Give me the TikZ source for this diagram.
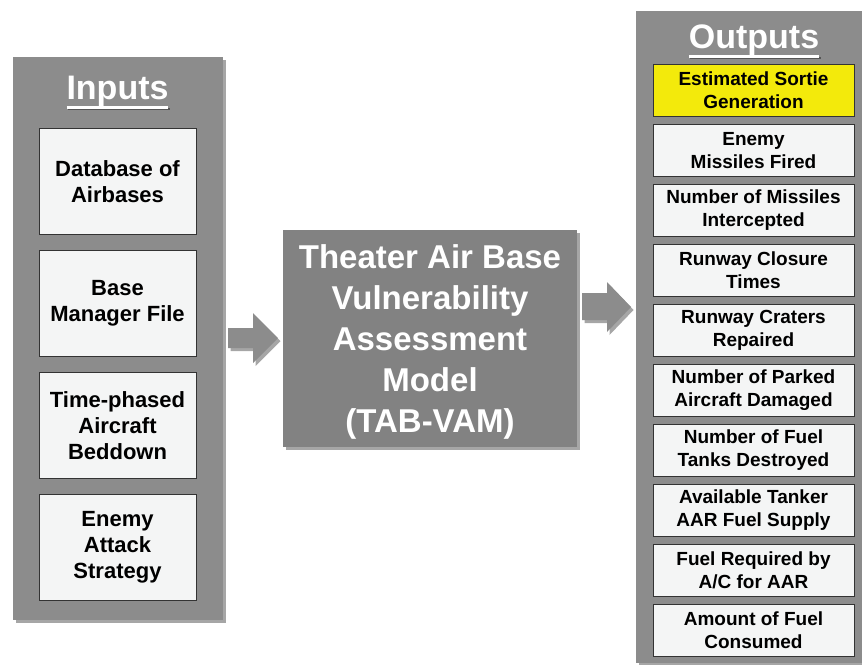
\documentclass[tikz,border=0pt]{standalone}
\usepackage{fontspec}
\setmainfont{Liberation Sans}
\usetikzlibrary{shadows,calc}
\definecolor{panelgray}{HTML}{8C8C8C}
\definecolor{modelgray}{HTML}{828282}
\definecolor{boxfill}{HTML}{F4F5F5}
\definecolor{boxline}{HTML}{333333}
\definecolor{sortieyellow}{HTML}{F3EA0B}
\definecolor{ulshadow}{HTML}{555555}
\newcommand\headul[1]{\setbox0\hbox{#1}\rlap{\hspace{1.5pt}\textcolor{ulshadow}{\rule[-11pt]{\wd0}{2.4pt}}}\rlap{\rule[-9.5pt]{\wd0}{2.4pt}}\box0}
\begin{document}
\begin{tikzpicture}[x=1pt,y=-1pt,
  softshadow/.style={drop shadow={shadow xshift=2.5pt, shadow yshift=-3pt, opacity=0.35, fill=black}},
  panel/.style={fill=panelgray, draw=none, inner sep=0pt, anchor=north west, softshadow},
  inbox/.style={fill=boxfill, draw=boxline, line width=0.9pt, minimum width=157, minimum height=106,
    inner sep=2pt, align=center, font=\bfseries\fontsize{22}{26}\selectfont},
  outbox/.style={fill=boxfill, draw=boxline, line width=0.9pt, minimum width=201, minimum height=52,
    inner sep=1pt, align=center, font=\bfseries\fontsize{19}{23}\selectfont},
  headtxt/.style={text=white, font=\bfseries\fontsize{34}{40}\selectfont, inner sep=0pt},
  modeltxt/.style={text=white, align=center, font=\bfseries\fontsize{33}{41}\selectfont, inner sep=0pt},
  blockarrow/.style={fill=panelgray, draw=none, softshadow}
]
\useasboundingbox[fill=white] (0,0) rectangle (862,664);

% panels
\node[panel, minimum width=210, minimum height=563] (inputs) at (13,57) {};
\node[panel, minimum width=226, minimum height=652] (outputs) at (636,11) {};

% headings
\node[headtxt] (inhead) at (117.5,93) {\headul{Inputs}};
\node[headtxt] (outhead) at (754,42) {\headul{Outputs}};

% input boxes
\node[inbox] (in1) at (117.5,181.5) {Database of\\Airbases};
\node[inbox] (in2) at (117.5,303.5) {Base\\Manager File};
\node[inbox] (in3) at (117.5,425.5) {Time-phased\\Aircraft\\Beddown};
\node[inbox] (in4) at (117.5,547.5) {Enemy\\Attack\\Strategy};

% model box
\node[fill=modelgray, minimum width=294, minimum height=217, inner sep=0pt, softshadow] (model) at (430,338.5) {};
\node[modeltxt] (modeltext) at ($(model.center)+(0,3.5)$) {Theater Air Base\\Vulnerability\\Assessment\\Model\\(TAB-VAM)};

% block arrows
\path[blockarrow] (228,328) -- (253,328) -- (253,313) -- (278,338) -- (253,363) -- (253,348) -- (228,348) -- cycle;
\path[blockarrow] (582,293) -- (607,293) -- (607,282) -- (631,307) -- (607,332) -- (607,320) -- (582,320) -- cycle;

% output boxes
\node[outbox, fill=sortieyellow] (out1) at (753.5,90) {Estimated Sortie\\Generation};
\node[outbox] (out2) at (753.5,150.5) {Enemy\\Missiles Fired};
\node[outbox] (out3) at (753.5,210.5) {Number of Missiles\\Intercepted};
\node[outbox] (out4) at (753.5,270.5) {Runway Closure\\Times};
\node[outbox] (out5) at (753.5,330.5) {Runway Craters\\Repaired};
\node[outbox] (out6) at (753.5,390.5) {Number of Parked\\Aircraft Damaged};
\node[outbox] (out7) at (753.5,450.5) {Number of Fuel\\Tanks Destroyed};
\node[outbox] (out8) at (753.5,510) {Available Tanker\\AAR Fuel Supply};
\node[outbox] (out9) at (753.5,570.5) {Fuel Required by\\A/C for AAR};
\node[outbox] (out10) at (753.5,630) {Amount of Fuel\\Consumed};
\end{tikzpicture}
\end{document}
